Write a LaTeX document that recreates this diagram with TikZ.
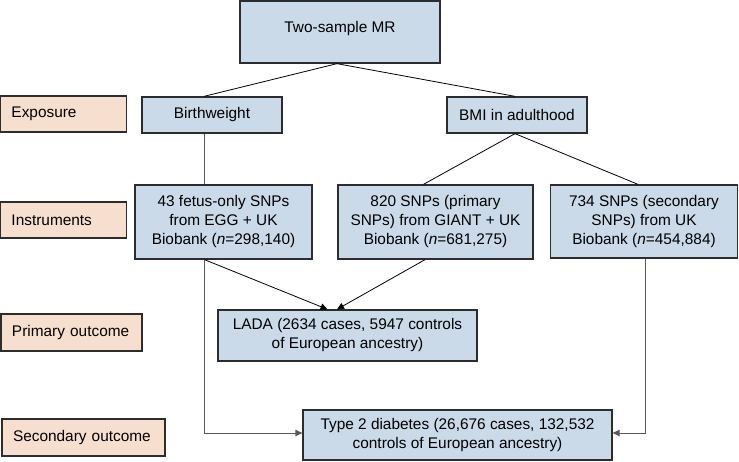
\documentclass[tikz,border=0pt]{standalone}
\usepackage{fontspec}
\setmainfont{Liberation Sans}
\usepackage{tikz}
\usetikzlibrary{arrows.meta}
\definecolor{boxblue}{RGB}{202,218,232}
\definecolor{boxpeach}{RGB}{247,223,208}
\definecolor{edge}{RGB}{45,45,45}
\tikzset{
	bbox/.style 2 args={draw=edge,line width=1.3pt,fill=boxblue,minimum width=#1,minimum height=#2,inner sep=2pt,align=center,font=\fontsize{15.4}{19}\selectfont},
	pbox/.style 2 args={draw=edge,line width=1.3pt,fill=boxpeach,minimum height=#2,text width=#1,inner xsep=11pt,inner ysep=2pt,align=left,font=\fontsize{15.4}{19}\selectfont},
	link/.style={draw=black,line width=0.8pt},
	glink/.style={draw=gray!70!black,line width=0.9pt},
	arr/.style={-{Triangle[length=7pt,width=6.5pt]}}
}

\begin{document}
\begin{tikzpicture}[x=1pt,y=1pt]
						\useasboundingbox (0,0) rectangle (739,-461);

						\node [bbox={200pt}{62pt},text depth=10pt] (mr) at (340,-32) {Two-sample MR};

						\node [pbox={104pt}{36pt}] (exposure) at (63.5,-114) {Exposure};
						\node [bbox={140pt}{36pt}] (birth) at (212,-115) {Birthweight};
						\node [bbox={140pt}{36pt}] (bmi) at (517,-115) {BMI in adulthood};

						\node [pbox={104pt}{36pt}] (instr) at (63.5,-220) {Instruments};
						\node [bbox={177pt}{74pt}] (fetus) at (223.5,-222) {43 fetus-only SNPs\\from EGG + UK\\Biobank ({\itshape n}=298,140)};
						\node [bbox={195pt}{74pt}] (giant) at (435.5,-222) {820 SNPs (primary\\SNPs) from GIANT + UK\\Biobank ({\itshape n}=681,275)};
						\node [bbox={187pt}{73pt}] (ukb) at (644,-221.5) {734 SNPs (secondary\\SNPs) from UK\\Biobank ({\itshape n}=454,884)};

						\node [pbox={119pt}{37pt}] (primary) at (71.5,-332.5) {Primary outcome};
						\node [bbox={259pt}{51pt}] (lada) at (347.5,-335.5) {LADA (2634 cases, 5947 controls\\of European ancestry)};

						\node [pbox={141pt}{37pt}] (secondary) at (83.5,-437.5) {Secondary outcome};
						\node [bbox={309pt}{50pt}] (t2d) at (457.5,-435) {Type 2 diabetes (26,676 cases, 132,532\\controls of European ancestry)};

						\coordinate (fout) at ([xshift=-19pt]fetus.south);

						\draw [link] ([xshift=-3pt]mr.south) -- ([xshift=-8pt]birth.north);
						\draw [link] ([xshift=-3pt]mr.south) -- ([xshift=-2pt]bmi.north);
						\draw [glink] ([xshift=-8pt]birth.south) -- ([xshift=-8pt]birth.south |- fetus.north);
						\draw [link] ([xshift=-2pt]bmi.south) -- ([xshift=-12pt]giant.north);
						\draw [link] ([xshift=-2pt]bmi.south) -- ([xshift=-6pt]ukb.north);
						\draw [link,arr] (fout) -- ([xshift=-20pt]lada.north);
						\draw [link,arr] ([xshift=-10.5pt]giant.south) -- ([xshift=-10.5pt]lada.north);
						\draw [glink,arr] (fout) |- ([yshift=2pt]t2d.west);
						\draw [glink,arr] ([xshift=1pt]ukb.south) |- ([yshift=2pt]t2d.east);
					\end{tikzpicture}
\end{document}
